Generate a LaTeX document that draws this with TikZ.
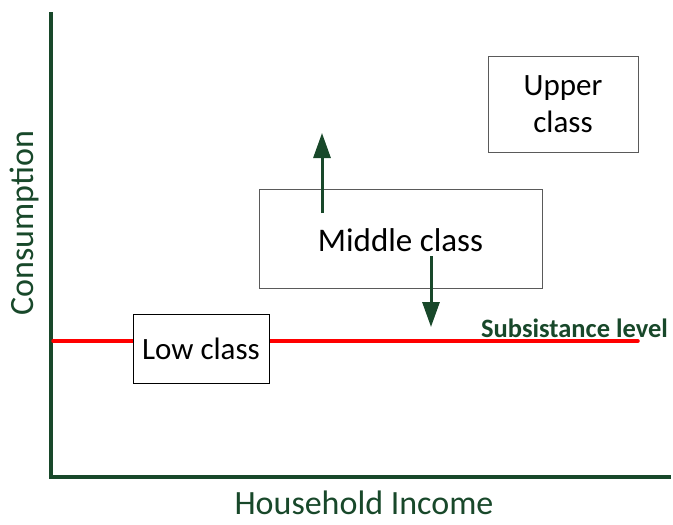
\documentclass[tikz,border=0pt]{standalone}
\usepackage{fontspec}
\setmainfont{Carlito}
\usetikzlibrary{arrows.meta}
\definecolor{axgreen}{RGB}{24,72,42}
\definecolor{boxgray}{RGB}{90,90,90}
\tikzset{
  classbox/.style={draw=boxgray, line width=1pt, fill=white, inner sep=0pt},
  axisline/.style={draw=axgreen, line width=4pt},
  moveArrow/.style={draw=axgreen, line width=3pt, -{Triangle[length=25pt,width=17pt]}},
  axlabel/.style={text=axgreen, inner sep=0pt, font=\fontsize{34}{40}\selectfont},
}
\begin{document}
\begin{tikzpicture}[x=1pt,y=-1pt]
\useasboundingbox (0,0) rectangle (673,525);
% axes
\coordinate (ytop) at (51,14);
\coordinate (orig) at (51,477);
\coordinate (xend) at (669,477);
\draw[axisline, line cap=rect] (ytop) -- (orig) -- (xend);
% subsistence line
\coordinate (sl) at (53,341);
\coordinate (sr) at (638,341);
\draw[red, line width=3.5pt, line cap=round] (sl) -- (sr);
\node[anchor=west, text=axgreen, font=\fontsize{26.5}{31}\selectfont\bfseries, inner sep=0pt] (subs) at (481,328) {Subsistance level};
% boxes
\node[classbox, draw=black, minimum width=136pt, minimum height=69pt, font=\fontsize{31}{37}\selectfont] (low) at (201,348.5) {Low class};
\node[classbox, minimum width=283pt, minimum height=99pt] (mid) at (400.5,238.5) {};
\node[font=\fontsize{33}{40}\selectfont, inner sep=0pt] (midtxt) at (400.5,240) {Middle class};
\node[classbox, minimum width=150pt, minimum height=96pt, align=center, font=\fontsize{31}{37}\selectfont] (up) at (563,104) {Upper\\class};
% arrows
\coordinate (uatail) at (322,213);
\coordinate (uatip) at (322,133);
\coordinate (datail) at (431,256);
\coordinate (datip) at (431,327);
\draw[moveArrow] (uatail) -- (uatip);
\draw[moveArrow] (datail) -- (datip);
% axis labels
\node[axlabel, rotate=90] (ylab) at (24,223) {Consumption};
\node[axlabel] (xlab) at (364,503) {Household Income};
\end{tikzpicture}
\end{document}
